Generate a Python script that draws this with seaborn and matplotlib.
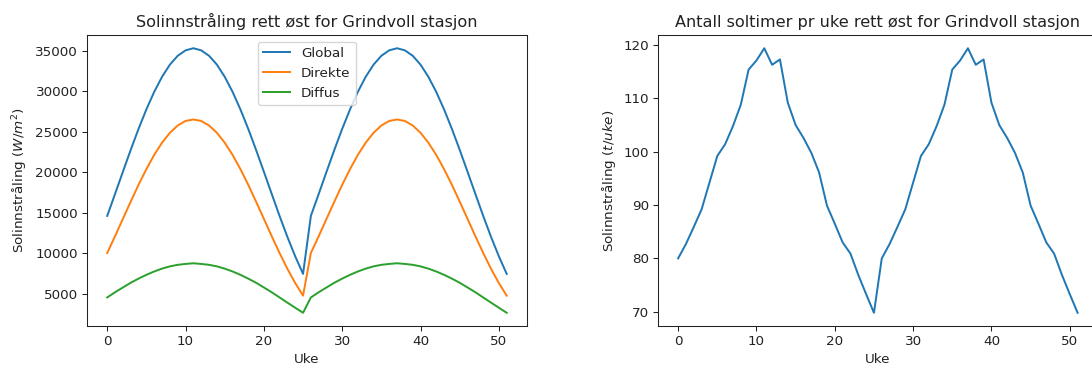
import matplotlib
matplotlib.use("Agg")
import matplotlib.pyplot as plt
import seaborn as sns

# Week numbers (two yearly cycles of 26 weeks)
uke = list(range(52))

# Irradiance on an east-facing surface (W/m^2 per week)
global_straling = [
    14620, 17330, 20060, 22760, 25350, 27750, 29910, 31760, 33260, 34350, 35020, 35280, 35020,
    34350, 33260, 31760, 29910, 27750, 25350, 22760, 20060, 17330, 14620, 12030, 9640, 7470,
    14620, 17330, 20060, 22760, 25350, 27750, 29910, 31760, 33260, 34350, 35020, 35280, 35020,
    34350, 33260, 31760, 29910, 27750, 25350, 22760, 20060, 17330, 14620, 12030, 9640, 7470,
]
direkte_straling = [
    10050, 12120, 14260, 16380, 18460, 20390, 22140, 23640, 24860, 25760, 26320, 26500, 26320,
    25760, 24860, 23640, 22140, 20390, 18460, 16380, 14260, 12120, 10050, 8100, 6340, 4790,
    10050, 12120, 14260, 16380, 18460, 20390, 22140, 23640, 24860, 25760, 26320, 26500, 26320,
    25760, 24860, 23640, 22140, 20390, 18460, 16380, 14260, 12120, 10050, 8100, 6340, 4790,
]
diffus_straling = [
    4570, 5210, 5800, 6380, 6890, 7360, 7770, 8120, 8400, 8590, 8700, 8780, 8700,
    8590, 8400, 8120, 7770, 7360, 6890, 6380, 5800, 5210, 4570, 3930, 3300, 2680,
    4570, 5210, 5800, 6380, 6890, 7360, 7770, 8120, 8400, 8590, 8700, 8780, 8700,
    8590, 8400, 8120, 7770, 7360, 6890, 6380, 5800, 5210, 4570, 3930, 3300, 2680,
]

# Sun hours per week
soltimer = [
    80.0, 82.7, 85.9, 89.2, 94.2, 99.2, 101.4, 104.8, 108.8, 115.4, 117.1, 119.4, 116.3,
    117.3, 109.2, 105.0, 102.6, 99.8, 96.1, 89.9, 86.5, 83.0, 80.9, 76.9, 73.3, 69.8,
    80.0, 82.7, 85.9, 89.2, 94.2, 99.2, 101.4, 104.8, 108.8, 115.4, 117.1, 119.4, 116.3,
    117.3, 109.2, 105.0, 102.6, 99.8, 96.1, 89.9, 86.5, 83.0, 80.9, 76.9, 73.3, 69.8,
]

serier = ["Global", "Direkte", "Diffus"]
verdier = [global_straling, direkte_straling, diffus_straling]

s = 0.9432  # scale of the default line sizes at 100 dpi
f = 0.97    # scale of the default font sizes at 100 dpi
plt.rcParams.update({
    "font.family": ["DejaVu Sans"],
    "font.size": 10 * f,
    "axes.titlesize": 12 * f,
    "axes.labelsize": 10 * f,
    "xtick.labelsize": 10 * f,
    "ytick.labelsize": 10 * f,
    "legend.fontsize": 10 * f,
    "lines.linewidth": 1.5 * s,
    "axes.linewidth": 0.8 * s,
    "xtick.major.width": 0.8 * s,
    "ytick.major.width": 0.8 * s,
    "xtick.major.size": 3.5 * s,
    "ytick.major.size": 3.5 * s,
    "xtick.major.pad": 3.5 * s,
    "ytick.major.pad": 3.5 * s,
    "axes.labelpad": 4.0 * s,
    "axes.titlepad": 6.0 * s,
    "axes.edgecolor": "#222222",
    "text.color": "#222222",
    "axes.labelcolor": "#222222",
    "xtick.color": "#222222",
    "ytick.color": "#222222",
})

farger = sns.color_palette("tab10", 3)

fig = plt.figure(figsize=(10.92, 3.67), dpi=100)
ax1 = fig.add_axes([0.0799, 0.1117, 0.4024, 0.7929])
ax2 = fig.add_axes([0.6027, 0.1117, 0.4024, 0.7929])

for navn, y, farge in zip(serier, verdier, farger):
    sns.lineplot(x=uke, y=y, ax=ax1, label=navn, color=farge)
ax1.legend(loc="upper center")
ax1.set_title("Solinnstråling rett øst for Grindvoll stasjon")
ax1.set_xlabel("Uke")
ax1.set_ylabel("Solinnstråling ($W/m^2$)")

sns.lineplot(x=uke, y=soltimer, ax=ax2, color=farger[0])
ax2.set_title("Antall soltimer pr uke rett øst for Grindvoll stasjon")
ax2.set_xlabel("Uke")
ax2.set_ylabel("Solinnstråling ($t/uke$)")

fig.savefig("out.png", dpi=100)
